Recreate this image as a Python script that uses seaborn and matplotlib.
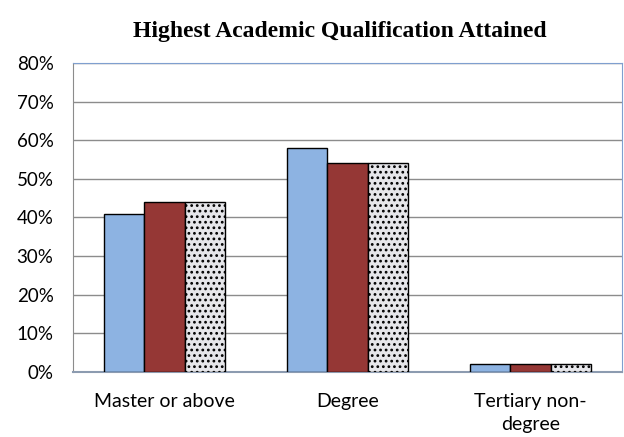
import pandas as pd
import matplotlib.pyplot as plt
import seaborn as sns

# --- datos ---
categorias = ['Master or above', 'Degree', 'Tertiary non-\ndegree']
serie_1 = [41, 58, 2]
serie_2 = [44, 54, 2]
serie_3 = [44, 54, 2]
series = ['Series 1', 'Series 2', 'Series 3']
yticks = [0, 10, 20, 30, 40, 50, 60, 70, 80]

df = pd.DataFrame({
    'qual': categorias * 3,
    'valor': serie_1 + serie_2 + serie_3,
    'serie': [s for s in series for _ in categorias],
})

sns.set_style('white')
plt.rcParams['font.family'] = ['Lato', 'DejaVu Sans']
plt.rcParams['text.color'] = 'black'
plt.rcParams['hatch.color'] = '#cfcfd3'
plt.rcParams['hatch.linewidth'] = 1.2

fig = plt.figure(figsize=(6.24, 4.37), dpi=100)
ax = fig.add_axes([0.117, 0.149, 0.88, 0.707])

sns.barplot(
    data=df, x='qual', y='valor', hue='serie',
    palette=['#8db3e2', '#953735', '#e6e6ea'],
    width=0.665, saturation=1, edgecolor='black', linewidth=1.0,
    legend=False, ax=ax, zorder=3
)

# textura gris de la tercera serie
for p in ax.containers[2]:
    p.set_hatch('...')

ax.set_ylim(0, 80)
ax.set_xlim(-0.5, 2.5)
ax.set_yticks(yticks)
ax.set_yticklabels([f'{v}%' for v in yticks])
ax.yaxis.grid(True, color='#8c8c8c', linewidth=1.0, zorder=0)
ax.set_axisbelow(True)
ax.set_xlabel('')
ax.set_ylabel('')
ax.tick_params(axis='y', length=0, labelsize=13.5, colors='black', pad=14)
ax.tick_params(axis='x', length=0, labelsize=14, colors='black', pad=15)
for lbl in ax.get_xticklabels():
    lbl.set_linespacing(1.45)

ax.spines['left'].set_color('#8c8c8c')
ax.spines['bottom'].set_color('#8c9bb0')
ax.spines['bottom'].set_linewidth(1.5)
ax.spines['top'].set_color('#7f9fcf')
ax.spines['right'].set_color('#7f9fcf')

fig.suptitle('Highest Academic Qualification Attained', x=0.545, y=0.952,
             fontsize=17, fontweight='bold', color='black',
             family=['Liberation Serif'])

fig.savefig('out.png', dpi=100)
